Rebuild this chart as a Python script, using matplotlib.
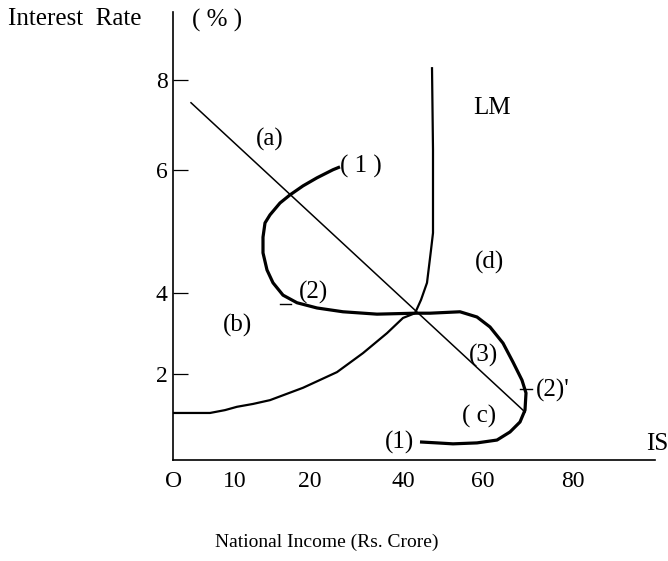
import matplotlib
matplotlib.use("Agg")
import matplotlib.pyplot as plt

plt.rcParams['font.family'] = ['Liberation Serif', 'DejaVu Serif']

# LM curve (national income, interest rate)
lm_x = [0, 7.4, 10.4, 12.8, 16.0, 19.4, 26.0, 32.8, 38.0, 42.8, 46.0, 48.4,
        49.6, 50.8, 51.6, 52.0, 52.0, 51.8]
lm_y = [0.99, 0.99, 1.05, 1.12, 1.18, 1.26, 1.52, 1.85, 2.25, 2.67, 2.99,
        3.09, 3.37, 3.73, 4.42, 4.78, 6.53, 8.27]

# straight downward sloping line through the equilibrium
line_x = [3.6, 70.4]
line_y = [7.52, 1.01]

# adjustment path, from (1) at the top round to (1) at the bottom
path_x = [33.4, 32.0, 28.8, 26.0, 23.4, 21.4, 19.4, 18.4, 18.0, 18.0, 18.8,
          20.0, 22.0, 24.8, 28.8, 34.0, 40.8, 48.4, 51.4, 57.4, 60.8, 63.4,
          66.0, 68.0, 69.8, 70.6, 70.4, 69.4, 67.4, 64.8, 60.8, 56.0, 52.8,
          49.4]
path_y = [6.17, 6.11, 5.94, 5.77, 5.58, 5.41, 5.16, 4.99, 4.69, 4.36, 4.00,
          3.73, 3.47, 3.31, 3.20, 3.12, 3.07, 3.09, 3.09, 3.12, 3.01, 2.80,
          2.46, 2.06, 1.68, 1.41, 1.05, 0.80, 0.59, 0.42, 0.36, 0.34, 0.36,
          0.38]

# small marks on the path at the points (2) and (2)'
mark_x = [[21.4, 23.6], [69.4, 71.8]]
mark_y = [[3.28, 3.28], [1.49, 1.49]]

# axis ticks as printed
xtick_pos = [0.2, 12.4, 27.4, 46.0, 62.0, 80.0]
xtick_lab = ['O', '10', '20', '40', '60', '80']
ytick_pos = [1.81, 3.52, 6.11, 8.0]
ytick_lab = ['2', '4', '6', '8']

# region and point labels
labels = ['LM', '(a)', '( 1 )', '(d)', '(2)', '(b)', '(3)', '( c)', '(1)', "(2)'", 'IS']
label_x = [63.8, 19.4, 37.6, 63.2, 28.0, 12.8, 62.2, 61.2, 45.4, 76.0, 96.8]
label_y = [7.41, 6.74, 6.17, 4.15, 3.52, 2.84, 2.21, 0.91, 0.36, 1.47, 0.34]

W, H = 668, 561
fig = plt.figure(figsize=(W / 100, H / 100), dpi=100)
ax = fig.add_axes([173 / W, 1 - 460 / H, (655 - 173) / W, (460 - 12) / H])
ax.set_xlim(0, 96.4)
ax.set_ylim(0, 9.43)

for s in ['top', 'right']:
    ax.spines[s].set_visible(False)
for s in ['left', 'bottom']:
    ax.spines[s].set_linewidth(1.2)

ax.plot(lm_x, lm_y, color='black', lw=1.6, solid_capstyle='butt')
ax.plot(line_x, line_y, color='black', lw=1.1)
ax.plot(path_x, path_y, color='black', lw=2.3, solid_joinstyle='round',
        solid_capstyle='butt')
for mx, my in zip(mark_x, mark_y):
    ax.plot(mx, my, color='black', lw=1.0)

for t, x, y in zip(labels, label_x, label_y):
    ax.text(x, y, t, fontsize=18, ha='center', va='center', clip_on=False)

ax.set_xticks(xtick_pos)
ax.set_xticklabels(xtick_lab, fontsize=17)
ax.set_yticks(ytick_pos)
ax.set_yticklabels(ytick_lab, fontsize=17)
ax.tick_params(axis='x', length=0, pad=8)
ax.tick_params(axis='y', direction='in', length=11, width=0.9, pad=4)

fig.text(8 / W, 1 - 19 / H, 'Interest  Rate', fontsize=18, ha='left', va='center')
fig.text(192 / W, 1 - 20 / H, '( % )', fontsize=18, ha='left', va='center')
fig.text(327 / W, 1 - 542 / H, 'National Income (Rs. Crore)', fontsize=14,
         ha='center', va='center')

fig.savefig('out.png', dpi=100)
